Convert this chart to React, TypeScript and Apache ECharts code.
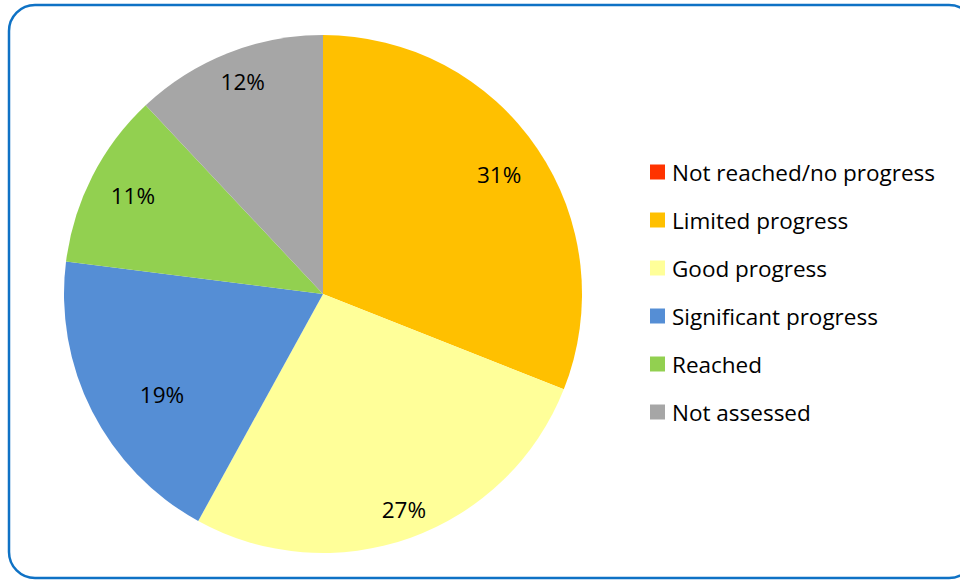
import React, { useEffect, useRef } from "react";
import * as echarts from "echarts";

const categories = [
  "Not reached/no progress",
  "Limited progress",
  "Good progress",
  "Significant progress",
  "Reached",
  "Not assessed",
];
const values = [0, 31, 27, 19, 11, 12];
const colors = ["#FF3300", "#FFC000", "#FFFF99", "#558ED5", "#92D050", "#A6A6A6"];
// distance of each percentage label from the pie centre (px) and angular nudge (deg)
const labelRadii = [212, 213, 230, 190, 214, 227];
const labelAngleShift = [0, 0, -0.8, -5.1, 0.3, 0.9];

const FONT = "Open Sans";
const CX = 323;
const CY = 294;
const R = 259;

export default function App() {
  const ref = useRef<HTMLDivElement>(null);
  useEffect(() => {
    if (!ref.current) return;
    const chart = echarts.init(ref.current, undefined, { renderer: "svg" });
    const data = categories.map((name, i) => ({
      name,
      value: values[i],
      itemStyle: { color: colors[i] },
    }));
    chart.setOption({
      animation: false,
      backgroundColor: "#FFFFFF",
      graphic: [
        {
          type: "rect",
          shape: { x: 9, y: 5, width: 966, height: 573, r: 26 },
          style: { fill: "none", stroke: "#0F72C5", lineWidth: 2.5 },
          z: 10,
        },
      ],
      legend: {
        orient: "vertical",
        left: 650,
        top: 160,
        padding: 0,
        itemWidth: 15,
        itemHeight: 15,
        itemGap: 24,
        icon: "rect",
        textStyle: {
          fontFamily: FONT,
          fontSize: 22.5,
          color: "#000",
          lineHeight: 24,
          padding: [0, 0, 0, 2],
        },
        data: categories,
      },
      series: [
        {
          type: "pie",
          center: [CX, CY],
          radius: [0, R],
          startAngle: 90,
          clockwise: true,
          data,
          itemStyle: { borderWidth: 0 },
          label: {
            show: true,
            position: "inside",
            formatter: (p: any) => (p.value > 0 ? `${p.value}%` : ""),
            fontFamily: FONT,
            fontSize: 22.5,
            color: "#000",
          },
          labelLine: { show: false },
          labelLayout: (params: any) => {
            const r = params.labelRect;
            if (!r) return {};
            const lx = r.x + r.width / 2;
            const ly = r.y + r.height / 2;
            const theta = Math.atan2(lx - CX, -(ly - CY)) + (labelAngleShift[params.dataIndex] * Math.PI) / 180;
            const d = labelRadii[params.dataIndex];
            const tx = CX + d * Math.sin(theta);
            const ty = CY - d * Math.cos(theta);
            return { dx: tx - lx, dy: ty - ly };
          },
          silent: true,
        },
      ],
    });
    return () => chart.dispose();
  }, []);
  return (
    <div
      ref={ref}
      style={{ position: "fixed", left: 0, top: 0, width: 960, height: 580 }}
    />
  );
}
